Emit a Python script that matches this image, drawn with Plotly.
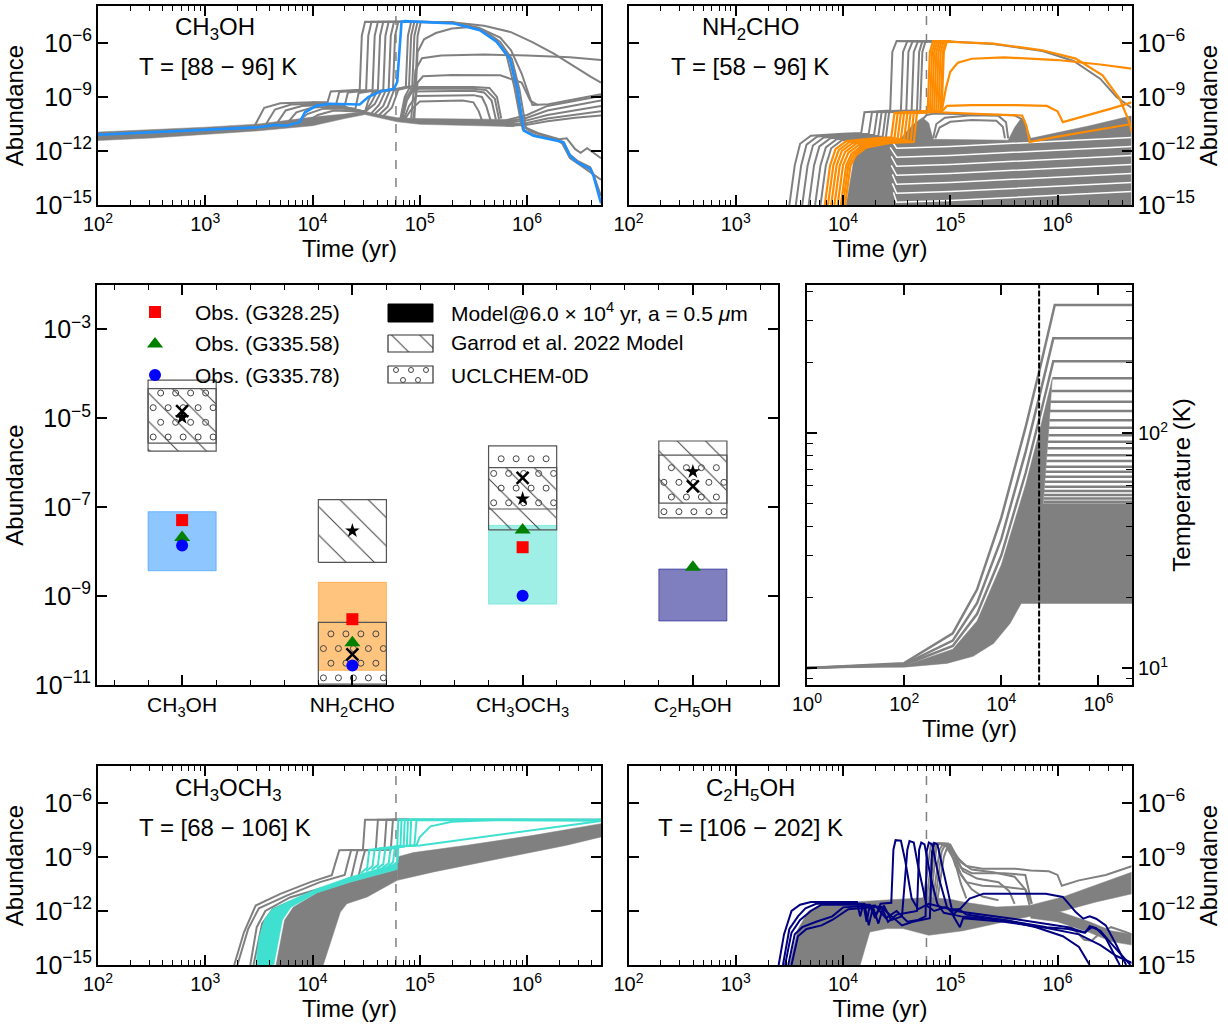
import plotly.graph_objects as go

FIG_W, FIG_H = 1228, 1028
MODEL_TIME = 6.0e4
GRAY = "#808080"
FONT = "Liberation Sans"

# ------------------------------------------------------------------
# Data (log10 time [yr], log10 abundance)
# ------------------------------------------------------------------
# ---- CH3OH ----
CH3OH_BLUE = [(2.0,-11.1),(3.0,-10.82),(3.5,-10.68),(3.65,-10.55),(3.76,-10.6),(3.88,-10.4),(3.93,-9.85),
              (4.04,-9.48),(4.16,-9.38),(4.44,-9.42),(4.52,-9.01),(4.63,-8.7),(4.76,-8.55),(4.79,-8.17),
              (4.83,-4.83),(4.86,-4.79),(5.32,-4.92),(5.56,-5.29),(5.72,-5.94),(5.84,-6.87),(5.91,-8.55),
              (5.97,-10.87),(6.06,-11.15),(6.28,-11.43),(6.34,-11.52),(6.40,-12.26),(6.47,-12.64),
              (6.59,-13.0),(6.62,-13.38),(6.69,-14.9)]
CH3OH_BAND = [(2.0,-10.95),(2.5,-10.82),(3.0,-10.68),(3.5,-10.5),(4.0,-10.12),(4.3,-9.95),(4.49,-9.8),
              (4.6,-9.95),(4.79,-10.15),(5.0,-10.2),(5.5,-10.25),(5.88,-10.25),(5.88,-10.65),(5.5,-10.58),
              (5.0,-10.52),(4.79,-10.38),(4.6,-10.12),(4.49,-9.98),(4.3,-10.2),(4.0,-10.6),(3.5,-10.88),
              (3.0,-11.1),(2.5,-11.28),(2.0,-11.42)]
CH3OH_GRAY = [
    # humps
    [(3.45,-10.72),(3.55,-9.6),(3.7,-9.35),(4.0,-9.3),(4.2,-9.4),(4.49,-9.82)],
    [(3.55,-10.67),(3.65,-9.7),(3.8,-9.42),(4.05,-9.38),(4.25,-9.5),(4.49,-9.82)],
    [(3.65,-10.62),(3.75,-9.75),(3.9,-9.5),(4.1,-9.45),(4.3,-9.6),(4.49,-9.82)],
    [(3.75,-10.55),(3.85,-9.85),(4.0,-9.58),(4.2,-9.55),(4.49,-9.82)],
    [(3.85,-10.45),(3.95,-9.95),(4.1,-9.65),(4.3,-9.65),(4.49,-9.82)],
    [(3.95,-10.35),(4.05,-10.0),(4.2,-9.75),(4.49,-9.82)],
    # ledges and jumps to the plateau
    [(4.0,-9.3),(4.14,-9.3),(4.17,-8.7),(4.44,-8.6),(4.46,-5.6),(4.49,-4.82),(5.3,-4.85)],
    [(4.05,-9.38),(4.22,-9.4),(4.25,-8.72),(4.5,-8.62),(4.52,-5.6),(4.55,-4.82),(5.3,-4.85)],
    [(4.1,-9.45),(4.3,-9.5),(4.33,-8.75),(4.56,-8.62),(4.58,-5.6),(4.61,-4.82),(5.3,-4.85)],
    [(4.2,-9.55),(4.4,-9.65),(4.43,-8.78),(4.61,-8.62),(4.63,-5.6),(4.66,-4.82),(5.3,-4.85)],
    [(4.49,-9.82),(4.52,-9.2),(4.56,-8.75),(4.66,-8.62),(4.68,-5.6),(4.71,-4.82),(5.3,-4.85)],
    [(4.49,-9.82),(4.55,-9.3),(4.6,-8.72),(4.71,-8.6),(4.73,-5.6),(4.76,-4.82),(5.3,-4.85)],
    [(4.49,-9.82),(4.58,-9.4),(4.64,-8.7),(4.75,-8.58),(4.77,-5.6),(4.8,-4.82),(5.3,-4.85)],
    [(4.55,-9.9),(4.62,-9.45),(4.68,-8.68),(4.87,-8.45),(4.89,-5.6),(4.92,-4.82),(5.3,-4.85)],
    [(4.58,-9.95),(4.66,-9.5),(4.72,-8.65),(4.9,-8.42),(4.92,-5.6),(4.95,-4.82),(5.3,-4.85)],
    [(4.62,-10.0),(4.7,-9.55),(4.76,-8.62),(4.93,-8.4),(4.95,-5.6),(4.98,-4.82),(5.3,-4.85)],
    [(4.66,-10.05),(4.74,-9.6),(4.8,-8.6),(4.96,-8.38),(4.98,-5.6),(5.01,-4.82),(5.3,-4.85)],
    # falls after the plateau
    [(5.3,-4.85),(5.56,-5.27),(5.72,-5.92),(5.84,-6.85),(5.9,-8.5),(5.96,-10.8),(6.06,-11.1),(6.28,-11.4),
     (6.34,-11.5),(6.4,-12.2),(6.47,-12.55),(6.59,-12.9),(6.62,-13.3),(6.69,-14.5)],
    [(5.3,-4.85),(5.6,-5.3),(5.75,-5.95),(5.86,-6.9),(5.93,-8.6),(5.99,-10.7),(6.1,-11.0),(6.3,-11.35),
     (6.37,-11.3),(6.45,-11.9),(6.5,-12.1),(6.56,-11.85),(6.62,-12.1),(6.69,-12.4)],
    [(5.3,-4.85),(5.55,-5.2),(5.7,-5.8),(5.81,-6.7),(5.88,-8.4),(5.95,-10.6),(6.05,-10.95),(6.27,-11.35),
     (6.33,-11.6),(6.4,-12.4),(6.5,-12.8),(6.6,-13.2),(6.69,-13.6)],
    [(5.3,-4.85),(5.6,-5.05),(5.85,-5.4),(6.05,-5.95),(6.25,-6.6),(6.45,-7.35),(6.6,-7.9),(6.69,-8.2)],
    [(5.3,-4.85),(5.55,-5.15),(5.75,-5.7),(5.85,-6.4),(5.95,-7.7),(6.05,-9.45),(6.2,-9.4),(6.45,-9.1),(6.69,-8.85)],
    # domes and upper branches after 6e4 yr
    [(4.82,-10.2),(4.86,-9.0),(4.9,-8.55),(5.0,-8.45),(5.5,-8.45),(5.65,-8.5),(5.72,-9.0),(5.76,-10.2)],
    [(4.83,-10.2),(4.87,-9.1),(4.92,-8.62),(5.0,-8.55),(5.5,-8.55),(5.62,-8.62),(5.7,-9.1),(5.74,-10.25)],
    [(4.84,-10.2),(4.88,-9.2),(4.93,-8.7),(5.5,-8.65),(5.6,-8.75),(5.67,-9.2),(5.71,-10.25)],
    [(4.85,-10.25),(4.9,-9.5),(4.97,-8.95),(5.5,-8.9),(5.58,-9.0),(5.62,-9.5),(5.66,-10.3)],
    [(4.86,-10.25),(4.92,-9.7),(5.0,-9.25),(5.4,-9.2),(5.5,-9.3),(5.55,-9.8),(5.58,-10.3)],
    [(4.92,-10.2),(4.96,-7.5),(5.02,-6.85),(5.2,-6.7),(5.6,-6.65),(6.0,-6.7),(6.4,-6.8),(6.69,-6.95)],
    [(4.94,-10.2),(4.98,-8.2),(5.03,-7.85),(5.3,-7.78),(5.75,-7.8),(5.95,-8.2),(6.03,-9.2),(6.1,-9.45)],
    [(4.95,-10.2),(4.98,-6.5),(5.04,-5.8),(5.15,-5.45),(5.3,-5.2),(5.5,-5.1)],
    # late fan
    [(5.8,-10.3),(6.0,-10.0),(6.19,-9.5),(6.45,-9.2),(6.69,-8.95)],
    [(5.8,-10.4),(6.0,-10.15),(6.19,-9.75),(6.45,-9.45),(6.69,-9.2)],
    [(5.8,-10.45),(6.0,-10.3),(6.19,-10.0),(6.45,-9.75),(6.69,-9.5)],
    [(5.8,-10.55),(6.0,-10.45),(6.19,-10.2),(6.45,-10.0),(6.69,-9.8)],
    [(5.8,-10.6),(6.0,-10.55),(6.19,-10.35),(6.45,-10.15),(6.69,-10.03)],
]

# ---- NH2CHO ----
NH2CHO_DENSE = [(4.03,-15),(4.1,-12.5),(4.16,-11.6),(4.24,-11.3),(4.44,-11.22),(4.47,-11.5),(4.52,-11.5),
                (4.58,-11.0),(4.66,-10.5),(4.74,-10.15),(4.8,-10.45),(4.84,-11.35),(5.54,-11.4),(5.6,-10.7),
                (5.66,-10.2),(5.7,-10.4),(5.75,-11.3),(6.0,-11.0),(6.3,-10.6),(6.69,-10.05),(6.69,-15)]
NH2CHO_GAPS = [
    [(4.44,-11.3),(4.5,-11.85),(5.0,-11.75),(5.5,-11.6),(6.0,-11.45),(6.69,-11.25)],
    [(4.44,-11.8),(4.5,-12.35),(5.0,-12.25),(5.5,-12.1),(6.0,-11.95),(6.69,-11.75)],
    [(4.45,-12.3),(4.5,-12.85),(5.0,-12.75),(5.5,-12.6),(6.0,-12.45),(6.69,-12.25)],
    [(4.45,-12.8),(4.5,-13.35),(5.0,-13.25),(5.5,-13.1),(6.0,-12.95),(6.69,-12.75)],
    [(4.46,-13.3),(4.5,-13.85),(5.0,-13.75),(5.5,-13.6),(6.0,-13.45),(6.69,-13.25)],
    [(4.46,-13.8),(4.5,-14.35),(5.0,-14.25),(5.5,-14.1),(6.0,-13.95),(6.69,-13.75)],
    [(4.47,-14.3),(4.5,-14.85),(5.0,-14.75),(5.5,-14.6),(6.0,-14.45),(6.69,-14.25)],
]
NH2CHO_GRAY = [
    [(3.50,-15),(3.55,-12.8),(3.6,-11.6),(3.7,-11.15),(4.0,-11.05),(4.17,-11.0),(4.2,-9.85),(4.44,-9.75),(4.46,-6.5),(4.5,-5.9),(5.0,-5.92)],
    [(3.56,-15),(3.61,-12.8),(3.66,-11.65),(3.76,-11.2),(4.05,-11.1),(4.24,-11.05),(4.27,-9.85),(4.54,-9.75),(4.56,-6.5),(4.6,-5.9),(5.0,-5.92)],
    [(3.62,-15),(3.67,-12.8),(3.72,-11.7),(3.82,-11.25),(4.1,-11.15),(4.29,-11.1),(4.32,-9.85),(4.59,-9.75),(4.61,-6.5),(4.65,-5.9),(5.0,-5.92)],
    [(3.68,-15),(3.73,-12.8),(3.78,-11.75),(3.88,-11.3),(4.15,-11.2),(4.33,-11.15),(4.36,-9.85),(4.64,-9.75),(4.66,-6.5),(4.7,-5.9),(5.0,-5.92)],
    [(3.74,-15),(3.79,-12.8),(3.84,-11.8),(3.94,-11.35),(4.2,-11.25),(4.37,-11.2),(4.4,-9.85),(4.69,-9.75),(4.71,-6.5),(4.74,-5.9),(5.0,-5.92)],
    [(3.79,-15),(3.84,-12.8),(3.89,-11.85),(3.99,-11.4),(4.22,-11.3),(4.4,-11.25),(4.43,-9.85),(4.72,-9.75),(4.74,-6.5),(4.77,-5.9),(5.0,-5.92)],
    [(5.0,-5.92),(5.4,-6.06),(5.86,-6.45),(6.15,-7.0),(6.4,-8.0),(6.55,-9.0),(6.69,-9.6)],
    [(4.84,-11.3),(4.87,-10.5),(4.95,-10.15),(5.2,-10.02),(5.45,-10.05),(5.52,-10.4),(5.54,-11.3)],
    [(4.86,-11.3),(4.9,-10.7),(5.0,-10.38),(5.2,-10.28),(5.43,-10.32),(5.49,-10.65),(5.51,-11.3)],
    [(4.7,-10.5),(4.78,-10.0),(4.85,-9.92),(5.6,-10.02),(5.69,-10.3),(5.73,-11.25)],
]
NH2CHO_ORANGE = [
    [(3.83,-15),(3.88,-12.8),(3.93,-11.9),(4.03,-11.45),(4.3,-11.3),(4.45,-11.25),(4.48,-9.9),(4.79,-9.78),(4.81,-6.5),(4.84,-5.9),(5.0,-5.9)],
    [(3.86,-15),(3.91,-12.8),(3.96,-11.95),(4.06,-11.5),(4.32,-11.33),(4.48,-11.28),(4.51,-9.9),(4.81,-9.78),(4.83,-6.5),(4.86,-5.9),(5.0,-5.9)],
    [(3.89,-15),(3.94,-12.8),(3.99,-12.0),(4.09,-11.55),(4.34,-11.36),(4.51,-11.3),(4.54,-9.9),(4.83,-9.78),(4.85,-6.5),(4.88,-5.9),(5.0,-5.9)],
    [(3.92,-15),(3.97,-12.8),(4.02,-12.05),(4.12,-11.6),(4.36,-11.4),(4.54,-11.33),(4.57,-9.9),(4.85,-9.78),(4.87,-6.5),(4.9,-5.9),(5.0,-5.9)],
    [(3.95,-15),(4.0,-12.8),(4.05,-12.1),(4.15,-11.65),(4.38,-11.43),(4.57,-11.36),(4.6,-9.9),(4.87,-9.78),(4.89,-6.5),(4.92,-5.9),(5.0,-5.9)],
    [(3.98,-15),(4.03,-12.8),(4.08,-12.15),(4.18,-11.7),(4.4,-11.46),(4.6,-11.4),(4.63,-9.9),(4.89,-9.78),(4.91,-6.5),(4.94,-5.9),(5.0,-5.9)],
    [(4.0,-15),(4.05,-12.8),(4.1,-12.2),(4.2,-11.75),(4.42,-11.5),(4.63,-11.45),(4.66,-9.9),(4.91,-9.78),(4.93,-6.5),(4.96,-5.9),(5.0,-5.9)],
    [(4.02,-15),(4.07,-12.8),(4.12,-12.25),(4.22,-11.8),(4.44,-11.55),(4.66,-11.5),(4.69,-9.9),(4.92,-9.8),(4.94,-6.5),(4.97,-5.9),(5.0,-5.9)],
    [(4.84,-5.9),(5.4,-6.04),(5.86,-6.41),(6.17,-6.87),(6.42,-7.8),(6.58,-9.1),(6.67,-10.4),(6.69,-10.96)],
    [(4.92,-9.8),(4.96,-8.5),(5.0,-7.6),(5.07,-7.1),(5.2,-6.88),(5.5,-6.8),(6.0,-6.95),(6.4,-7.2),(6.69,-7.43)],
    [(4.93,-9.75),(4.97,-9.5),(5.2,-9.45),(5.6,-9.45),(5.9,-9.5),(6.0,-9.8),(6.05,-10.4),(6.3,-10.0),(6.5,-9.65),(6.69,-9.3)],
    [(4.8,-9.8),(4.9,-9.85),(5.3,-9.95),(5.67,-10.03),(5.71,-10.6),(5.74,-11.5),(6.0,-11.2),(6.4,-10.8),(6.69,-10.5)],
]

# ---- CH3OCH3 ----
CH3OCH3_DENSE = [(3.66,-15),(3.7,-13.8),(3.74,-12.5),(3.82,-11.8),(4.04,-11.0),(4.35,-10.4),(4.6,-10.0),
                 (4.79,-9.7),(4.79,-10.3),(4.51,-11.22),(4.32,-11.6),(4.26,-12.06),(4.1,-15)]
CH3OCH3_FAN = [(4.79,-9.0),(4.94,-8.76),(5.44,-8.35),(6.06,-7.8),(6.69,-7.15),(6.69,-7.89),(6.37,-8.35),
               (5.75,-9.09),(5.13,-9.83),(4.79,-10.3)]
CH3OCH3_TURQ_BAND = [(3.47,-15),(3.5,-13.5),(3.55,-12.5),(3.62,-11.9),(3.76,-11.5),(4.04,-10.76),(4.35,-10.11),
                     (4.6,-9.7),(4.79,-9.35),(4.79,-9.7),(4.6,-10.0),(4.35,-10.4),(4.04,-11.0),(3.8,-11.8),
                     (3.72,-12.5),(3.68,-13.8),(3.64,-15)]
CH3OCH3_GRAY = [
    [(3.27,-15),(3.36,-13.2),(3.47,-11.7),(3.7,-11.05),(3.98,-10.4),(4.18,-10.02),(4.21,-9.4),(4.25,-8.63),(4.47,-8.6),(4.49,-6.93),(6.69,-6.93)],
    [(3.3,-15),(3.4,-13.0),(3.5,-11.85),(3.76,-11.15),(4.07,-10.4),(4.3,-10.0),(4.33,-9.3),(4.36,-8.63),(4.59,-8.6),(4.61,-6.93),(4.9,-6.93)],
    [(3.42,-15),(3.48,-12.9),(3.56,-12.0),(3.79,-11.25),(4.16,-10.6),(4.36,-10.15),(4.39,-9.4),(4.42,-8.63),(4.67,-8.6),(4.69,-6.93),(4.9,-6.93)],
    [(3.45,-15),(3.53,-12.7),(3.63,-11.9),(3.89,-11.25),(4.26,-10.5),(4.43,-10.05),(4.46,-9.3),(4.49,-8.63),(4.73,-8.6),(4.75,-6.93),(4.9,-6.93)],
]
CH3OCH3_TURQ = [
    [(4.45,-9.9),(4.51,-9.6),(4.53,-8.6),(4.79,-8.5),(4.8,-6.93),(6.69,-6.93)],
    [(4.5,-9.8),(4.56,-9.5),(4.58,-8.55),(4.82,-8.45),(4.83,-6.93),(6.69,-6.93)],
    [(4.55,-9.72),(4.61,-9.45),(4.63,-8.52),(4.85,-8.42),(4.86,-6.93),(6.69,-6.95)],
    [(4.6,-9.65),(4.66,-9.4),(4.68,-8.5),(4.88,-8.4),(4.89,-6.93),(6.69,-6.95)],
    [(4.65,-9.6),(4.71,-9.35),(4.73,-8.45),(4.91,-8.38),(4.92,-6.93),(6.69,-6.97)],
    [(4.7,-9.55),(4.75,-9.3),(4.77,-8.42),(4.95,-8.37),(4.97,-6.95),(6.69,-6.97)],
    [(4.75,-9.45),(4.79,-9.3),(4.8,-8.4),(4.97,-8.35),(5.0,-7.9),(5.1,-7.3),(5.3,-7.05),(5.7,-6.95),(6.69,-6.95)],
    [(4.79,-9.35),(4.8,-8.4),(5.0,-8.36),(5.5,-7.95),(6.0,-7.55),(6.4,-7.25),(6.69,-7.0)],
]

# ---- C2H5OH ----
C2H5OH_DENSE = [(3.5,-15),(3.58,-13.0),(3.68,-12.0),(3.8,-11.6),(4.1,-11.5),(4.4,-11.4),(4.6,-11.35),(4.8,-11.25),
                (5.0,-11.35),(5.12,-11.5),(5.43,-11.78),(5.74,-11.69),(6.05,-11.22),(6.36,-10.57),(6.7,-9.83),
                (6.7,-11.04),(6.36,-11.5),(6.05,-12.0),(5.74,-12.3),(5.43,-12.7),(5.12,-13.1),(4.8,-13.35),
                (4.56,-12.98),(4.41,-12.98),(4.25,-13.17),(4.16,-15)]
C2H5OH_LOWBAND = [(5.75,-11.9),(6.0,-12.0),(6.3,-12.6),(6.5,-13.1),(6.7,-13.3),(6.7,-13.9),(6.5,-13.7),
                  (6.3,-13.2),(6.0,-12.6),(5.75,-12.4)]
C2H5OH_GRAY = [
    [(4.75,-11.4),(4.8,-9.0),(4.82,-8.25),(4.95,-8.25),(5.0,-8.6),(5.05,-9.5),(5.15,-10.4),(5.3,-10.6),(5.5,-10.65),(5.7,-10.8),(5.76,-11.6)],
    [(4.78,-11.4),(4.83,-8.8),(4.86,-8.25),(4.98,-8.25),(5.03,-8.8),(5.1,-9.6),(5.2,-9.9),(5.5,-9.9),(5.7,-10.0),(5.74,-11.0),(5.76,-11.6)],
    [(4.8,-11.4),(4.85,-8.6),(4.88,-8.25),(5.0,-8.3),(5.06,-9.0),(5.15,-9.5),(5.3,-9.65),(5.6,-9.65),(5.75,-9.75),
     (5.92,-9.8),(6.0,-10.0),(6.04,-10.6),(6.2,-10.3),(6.45,-10.0),(6.7,-9.5)],
    [(4.82,-11.4),(4.87,-8.5),(4.9,-8.25),(5.0,-8.4),(5.1,-9.3),(5.2,-9.7),(5.4,-9.85),(5.6,-10.1),(5.7,-10.8),(5.74,-11.7)],
    [(4.84,-11.4),(4.9,-8.6),(4.93,-8.3),(5.02,-8.6),(5.12,-9.8),(5.25,-10.2),(5.45,-10.4),(5.55,-10.9),(5.6,-11.6)],
    [(4.86,-11.4),(4.92,-8.7),(4.95,-8.35),(5.03,-8.8),(5.1,-10.0),(5.2,-10.8),(5.3,-11.2),(5.45,-11.4)],
    [(4.88,-11.4),(4.94,-9.0),(4.97,-8.5),(5.04,-9.2),(5.1,-10.5),(5.15,-11.3)],
    [(5.9,-12.4),(6.1,-12.7),(6.25,-13.6),(6.32,-13.65),(6.4,-13.2),(6.5,-12.9),(6.6,-13.1),(6.7,-13.3)],
]
C2H5OH_NAVY = [
    [(3.40,-15),(3.45,-13.3),(3.52,-12.0),(3.6,-11.65),(3.7,-11.5),(4.13,-11.5),(4.16,-12.3),(4.19,-11.6),(4.22,-12.6),
     (4.25,-11.7),(4.3,-12.4),(4.35,-11.6),(4.45,-11.55),(4.47,-8.6),(4.49,-8.07),(4.54,-8.1),(4.58,-9.2),(4.64,-11.3),
     (4.7,-11.9),(4.8,-11.6),(5.0,-11.9),(5.09,-11.9),(5.18,-11.31),(5.31,-11.04),(5.89,-11.04),(6.05,-11.22),
     (6.17,-12.06),(6.24,-12.43),(6.3,-12.3),(6.36,-12.43),(6.45,-12.8),(6.55,-13.9),(6.64,-15)],
    [(3.44,-15),(3.5,-13.0),(3.58,-12.3),(3.65,-11.85),(3.75,-11.6),(4.2,-11.6),(4.24,-12.8),(4.28,-11.8),(4.33,-12.7),
     (4.38,-11.7),(4.45,-12.5),(4.55,-12.3),(4.6,-8.6),(4.62,-8.12),(4.66,-8.2),(4.7,-9.5),(4.78,-11.7),(4.85,-12.0),
     (4.95,-11.8),(5.05,-12.0),(5.6,-12.45),(5.9,-12.7),(6.1,-12.9),(6.26,-13.2),(6.3,-12.85),(6.36,-12.95),
     (6.45,-13.5),(6.58,-15)],
    [(3.46,-15),(3.52,-13.2),(3.6,-12.5),(3.7,-12.0),(3.8,-11.65),(4.25,-11.65),(4.3,-12.2),(4.36,-11.8),(4.42,-12.6),
     (4.5,-12.2),(4.6,-12.1),(4.69,-12.0),(4.71,-8.6),(4.73,-8.2),(4.76,-8.3),(4.82,-10.2),(4.88,-11.6),(4.94,-12.1),
     (5.1,-12.3),(5.5,-12.5),(5.8,-12.9),(6.05,-13.4),(6.2,-14.0),(6.3,-15)],
    [(3.49,-15),(3.55,-13.3),(3.62,-12.9),(3.75,-12.6),(3.9,-12.3),(4.0,-11.8),(4.3,-11.7),(4.4,-12.4),(4.5,-12.0),
     (4.6,-12.6),(4.7,-12.5),(4.77,-12.3),(4.78,-8.7),(4.8,-8.2),(4.83,-8.3),(4.9,-10.3),(4.97,-11.8),(5.03,-12.2),
     (5.08,-11.9),(5.15,-12.2),(5.6,-12.6),(5.9,-12.9),(6.1,-13.0),(6.25,-13.2),(6.32,-12.9),(6.4,-13.1),
     (6.5,-13.8),(6.68,-15)],
    [(3.52,-15),(3.58,-13.4),(3.66,-13.0),(3.8,-12.8),(3.9,-12.5),(4.05,-11.9),(4.35,-11.75),(4.45,-12.3),(4.55,-12.8),
     (4.65,-12.6),(4.81,-12.4),(4.83,-8.7),(4.85,-8.22),(4.88,-8.3),(4.95,-10.2),(5.03,-12.3),(5.09,-12.9),
     (5.12,-12.4),(5.5,-12.6),(5.9,-12.95),(6.2,-13.3),(6.4,-13.9),(6.55,-14.5),(6.7,-14.9)],
]

# ---- Temperature profiles (log10 t, log10 T) ----
TEMP_TOP = [
    [(0,1.0),(2,1.021),(3,1.148),(3.5,1.334),(4,1.64),(4.5,2.025),(4.8,2.28),(5.10,2.545),(6.69,2.545)],
    [(0,1.0),(2,1.016),(3,1.117),(3.5,1.276),(4,1.55),(4.5,1.92),(4.8,2.17),(5.07,2.403),(6.69,2.403)],
    [(0,1.0),(2,1.013),(3,1.094),(3.5,1.23),(4,1.48),(4.5,1.83),(4.8,2.076),(5.07,2.306),(6.69,2.306)],
]
TEMP_FLAT = [(5.05,2.233),(5.03,2.179),(5.01,2.133),(5.0,2.094),(4.99,2.055),(4.98,2.023),(4.97,1.991),
             (4.96,1.963),(4.95,1.935),(4.94,1.906),(4.93,1.881),(4.92,1.857),(4.91,1.835),(4.90,1.814),
             (4.90,1.793),(4.89,1.772),(4.88,1.753),(4.88,1.736),(4.87,1.722),(4.87,1.708)]
TEMP_MASS = [(0,1.0),(2,1.01),(3,1.08),(3.5,1.2),(4,1.44),(4.5,1.78),(4.8,2.02),(5.05,2.233),
             (5.03,2.179),(5.01,2.133),(5.0,2.094),(4.99,2.055),(4.98,2.023),(4.97,1.991),(4.96,1.963),
             (4.95,1.935),(4.94,1.906),(4.93,1.881),(4.92,1.857),(4.91,1.835),(4.90,1.814),(4.90,1.793),
             (4.89,1.772),(4.88,1.753),(4.88,1.736),(4.87,1.722),(4.86,1.70),(6.69,1.70),(6.69,1.275),
             (4.41,1.275),(4.18,1.19),(3.84,1.105),(3.42,1.05),(2.88,1.02),(2.0,1.004),(0,1.0)]
T_END = 6.69

# ---- Middle panel: abundance ranges (log10) ----
SPECIES = ["CH<sub>3</sub>OH", "NH<sub>2</sub>CHO", "CH<sub>3</sub>OCH<sub>3</sub>", "C<sub>2</sub>H<sub>5</sub>OH"]
MODEL_COLORS = ["rgba(30,144,255,0.5)", "rgba(255,140,0,0.5)", "rgba(64,224,208,0.5)", "rgba(0,0,128,0.5)"]
MODEL_LO = [-8.43, -10.67, -9.18, -9.56]
MODEL_HI = [-7.10, -8.69, -7.41, -8.39]
GARROD_LO = [-5.74, -8.24, -7.51, -6.91]
GARROD_HI = [-4.33, -6.83, -6.11, -5.51]
GARROD_MED = [-4.98, -7.53, -6.81, -6.20]
UCL_LO = [-5.56, -10.98, -7.04, -7.24]
UCL_HI = [-4.14, -9.59, -5.62, -5.83]
UCL_MED = [-4.84, -10.31, -6.34, -6.53]
OBS_G328 = [-7.29, -9.52, -7.90, None]
OBS_G335_58 = [-7.68, -10.05, -7.51, -8.35]
OBS_G335_78 = [-7.86, -10.56, -8.99, None]
BOX_W = 0.4

# ------------------------------------------------------------------
fig = go.Figure()


def axn(n):
    return ("x" if n == 1 else f"x{n}"), ("y" if n == 1 else f"y{n}")


def xy(pts):
    return [10 ** p[0] for p in pts], [10 ** p[1] for p in pts]


def add_line(pts, color, width, n, dash=None):
    x, y = xy(pts)
    xa, ya = axn(n)
    fig.add_trace(go.Scatter(x=x, y=y, mode="lines", line=dict(color=color, width=width, dash=dash),
                             xaxis=xa, yaxis=ya, showlegend=False, hoverinfo="skip"))


def add_poly(pts, color, n):
    x, y = xy(pts)
    xa, ya = axn(n)
    fig.add_trace(go.Scatter(x=x + [x[0]], y=y + [y[0]], mode="lines", fill="toself", fillcolor=color,
                             line=dict(color=color, width=0.5), xaxis=xa, yaxis=ya,
                             showlegend=False, hoverinfo="skip"))


def vline(n, ylo, yhi, color, width, dash):
    xa, ya = axn(n)
    fig.add_trace(go.Scatter(x=[MODEL_TIME, MODEL_TIME], y=[ylo, yhi], mode="lines",
                             line=dict(color=color, width=width, dash=dash), xaxis=xa, yaxis=ya,
                             showlegend=False, hoverinfo="skip"))


# Panel 1: CH3OH
vline(1, 1e-15, 10 ** -3.95, GRAY, 1.5, "dash")
add_poly(CH3OH_BAND, GRAY, 1)
for c in CH3OH_GRAY:
    add_line(c, GRAY, 2, 1)
add_line(CH3OH_BLUE, "#1E90FF", 2.6, 1)

# Panel 2: NH2CHO
vline(2, 1e-15, 10 ** -3.95, GRAY, 1.5, "dash")
add_poly(NH2CHO_DENSE, GRAY, 2)
for c in NH2CHO_GAPS:
    add_line(c, "white", 1.5, 2)
for c in NH2CHO_GRAY:
    add_line(c, GRAY, 2, 2)
for c in NH2CHO_ORANGE:
    add_line(c, "#FF8C00", 2.2, 2)

# Panel 5: CH3OCH3
vline(5, 1e-15, 10 ** -3.95, GRAY, 1.5, "dash")
add_poly(CH3OCH3_DENSE, GRAY, 5)
add_poly(CH3OCH3_FAN, GRAY, 5)
for c in CH3OCH3_GRAY:
    add_line(c, GRAY, 2, 5)
add_poly(CH3OCH3_TURQ_BAND, "#40E0D0", 5)
for c in CH3OCH3_TURQ:
    add_line(c, "#40E0D0", 2, 5)

# Panel 6: C2H5OH
vline(6, 1e-15, 10 ** -3.95, GRAY, 1.5, "dash")
add_poly(C2H5OH_DENSE, GRAY, 6)
add_poly(C2H5OH_LOWBAND, GRAY, 6)
for c in C2H5OH_GRAY:
    add_line(c, GRAY, 2, 6)
for c in C2H5OH_NAVY:
    add_line(c, "#000080", 2, 6)

# Panel 4: temperature
add_poly(TEMP_MASS, GRAY, 4)
for c in TEMP_TOP:
    add_line(c, GRAY, 2.5, 4)
for t0, lt in TEMP_FLAT:
    add_line([(t0, lt), (T_END, lt)], GRAY, 2.5, 4)
fig.add_trace(go.Scatter(x=[MODEL_TIME, MODEL_TIME], y=[7, 500], mode="lines",
                         line=dict(color="black", width=2, dash="6px,2px"), xaxis="x4", yaxis="y4",
                         showlegend=False, hoverinfo="skip"))

# Panel 3: comparison boxes
HATCH = dict(shape="\\", fgcolor="#2a2a2a", fgopacity=0.9, bgcolor="rgba(0,0,0,0)", size=20, solidity=0.05)


def rect_xy(i, lo, hi):
    x0, x1 = i - BOX_W / 2, i + BOX_W / 2
    return [x0, x1, x1, x0, x0], [10 ** lo, 10 ** lo, 10 ** hi, 10 ** hi, 10 ** lo]


for i in range(4):
    x, y = rect_xy(i, MODEL_LO[i], MODEL_HI[i])
    fig.add_trace(go.Scatter(x=x, y=y, mode="lines", fill="toself", fillcolor=MODEL_COLORS[i],
                             line=dict(color=MODEL_COLORS[i], width=1), xaxis="x3", yaxis="y3",
                             showlegend=False, hoverinfo="skip"))

for i in range(4):
    x, y = rect_xy(i, GARROD_LO[i], GARROD_HI[i])
    fig.add_trace(go.Scatter(x=x, y=y, mode="lines", fill="toself", fillcolor="rgba(0,0,0,0)",
                             fillpattern=HATCH, line=dict(color="#555555", width=1.2),
                             xaxis="x3", yaxis="y3", showlegend=False, hoverinfo="skip"))


def circle_grid(i, lo, hi):
    xs, ys = [], []
    row = 0
    yv = lo + 0.14
    while yv < hi - 0.06:
        xv = i - BOX_W / 2 + 0.03 + (0.044 if row % 2 else 0.0)
        while xv < i + BOX_W / 2 - 0.015:
            xs.append(xv)
            ys.append(10 ** yv)
            xv += 0.088
        yv += 0.33
        row += 1
    return xs, ys


for i in range(4):
    x, y = rect_xy(i, UCL_LO[i], UCL_HI[i])
    fig.add_trace(go.Scatter(x=x, y=y, mode="lines", line=dict(color="#555555", width=1.2),
                             xaxis="x3", yaxis="y3", showlegend=False, hoverinfo="skip"))
    cx, cy = circle_grid(i, UCL_LO[i], UCL_HI[i])
    fig.add_trace(go.Scatter(x=cx, y=cy, mode="markers",
                             marker=dict(symbol="circle-open", size=6, color="#444444", line=dict(width=1)),
                             xaxis="x3", yaxis="y3", showlegend=False, hoverinfo="skip"))

cats = list(range(4))
fig.add_trace(go.Scatter(x=cats, y=[10 ** v for v in GARROD_MED], mode="markers",
                         marker=dict(symbol="star", size=11, color="black"),
                         xaxis="x3", yaxis="y3", showlegend=False, hoverinfo="skip"))
fig.add_trace(go.Scatter(x=cats, y=[10 ** v for v in UCL_MED], mode="markers",
                         marker=dict(symbol="x-thin-open", size=12, color="black", line=dict(width=2.5, color="black")),
                         xaxis="x3", yaxis="y3", showlegend=False, hoverinfo="skip"))


def obs(vals, symbol, color, size):
    xs = [i for i, v in enumerate(vals) if v is not None]
    ys = [10 ** v for v in vals if v is not None]
    fig.add_trace(go.Scatter(x=xs, y=ys, mode="markers", marker=dict(symbol=symbol, size=size, color=color),
                             xaxis="x3", yaxis="y3", showlegend=False, hoverinfo="skip"))


obs(OBS_G328, "square", "red", 12)
obs(OBS_G335_58, "triangle-up", "green", 14)
obs(OBS_G335_78, "circle", "blue", 12)

# Legend glyphs (pixel coordinates on a full-figure overlay axis)
fig.add_trace(go.Scatter(x=[155], y=[312], mode="markers", marker=dict(symbol="square", size=12, color="red"),
                         xaxis="x7", yaxis="y7", showlegend=False, hoverinfo="skip"))
fig.add_trace(go.Scatter(x=[155], y=[344], mode="markers", marker=dict(symbol="triangle-up", size=14, color="green"),
                         xaxis="x7", yaxis="y7", showlegend=False, hoverinfo="skip"))
fig.add_trace(go.Scatter(x=[155], y=[375], mode="markers", marker=dict(symbol="circle", size=12, color="blue"),
                         xaxis="x7", yaxis="y7", showlegend=False, hoverinfo="skip"))
fig.add_trace(go.Scatter(x=[388, 433, 433, 388, 388], y=[304, 304, 322, 322, 304], mode="lines", fill="toself",
                         fillcolor="black", line=dict(color="black", width=1),
                         xaxis="x7", yaxis="y7", showlegend=False, hoverinfo="skip"))
fig.add_trace(go.Scatter(x=[388, 433, 433, 388, 388], y=[335, 335, 352, 352, 335], mode="lines", fill="toself",
                         fillcolor="rgba(0,0,0,0)", fillpattern=HATCH, line=dict(color="#333333", width=1.2),
                         xaxis="x7", yaxis="y7", showlegend=False, hoverinfo="skip"))
fig.add_trace(go.Scatter(x=[388, 433, 433, 388, 388], y=[366, 366, 383, 383, 366], mode="lines",
                         line=dict(color="#333333", width=1.2),
                         xaxis="x7", yaxis="y7", showlegend=False, hoverinfo="skip"))
fig.add_trace(go.Scatter(x=[396, 411, 426, 403, 418], y=[370, 370, 370, 380, 380], mode="markers",
                         marker=dict(symbol="circle-open", size=5, color="#444444", line=dict(width=1)),
                         xaxis="x7", yaxis="y7", showlegend=False, hoverinfo="skip"))

# ------------------------------------------------------------------
TICKFONT = dict(family=FONT, size=20, color="black")
TITLEFONT = dict(family=FONT, size=24, color="black")
MINOR_T = [k * 10 ** e for e in range(2, 7) for k in range(2, 10) if k * 10 ** e <= 10 ** 6.69]
MAJOR_T = [1e2, 1e3, 1e4, 1e5, 1e6]
MAJOR_TXT = ["10<sup>2</sup>", "10<sup>3</sup>", "10<sup>4</sup>", "10<sup>5</sup>", "10<sup>6</sup>"]


def P(px):
    return px / FIG_W


def Q(py):
    return 1 - py / FIG_H


def base_axis(**kw):
    d = dict(showline=True, linecolor="black", linewidth=2, mirror="allticks", ticks="inside",
             ticklen=10, tickwidth=1.5, tickcolor="black", showgrid=False, zeroline=False,
             tickfont=TICKFONT, automargin=False)
    d.update(kw)
    return d


def time_axis(domain, anchor):
    return base_axis(domain=domain, anchor=anchor, type="log", range=[2, 6.69], tickmode="array",
                     tickvals=MAJOR_T, ticktext=MAJOR_TXT,
                     minor=dict(ticks="inside", ticklen=5, tickwidth=1.2, tickcolor="black",
                                tickmode="array", tickvals=MINOR_T, showgrid=False),
                     title=dict(text="Time (yr)", font=TITLEFONT, standoff=2))


def abund_axis(domain, anchor, side):
    return base_axis(domain=domain, anchor=anchor, type="log", range=[-15, -3.95], dtick=3, tick0=0,
                     exponentformat="power", side=side,
                     title=dict(text="Abundance", font=TITLEFONT, standoff=4))


TOP_Y = [Q(205), Q(6)]
BOT_Y = [Q(965), Q(766)]
LEFT_X = [P(98), P(601)]
RIGHT_X = [P(628.5), P(1131.5)]
MID_Y = [Q(685), Q(285)]

layout = dict(
    xaxis=time_axis(LEFT_X, "y"), yaxis=abund_axis(TOP_Y, "x", "left"),
    xaxis2=time_axis(RIGHT_X, "y2"), yaxis2=abund_axis(TOP_Y, "x2", "right"),
    xaxis5=time_axis(LEFT_X, "y5"), yaxis5=abund_axis(BOT_Y, "x5", "left"),
    xaxis6=time_axis(RIGHT_X, "y6"), yaxis6=abund_axis(BOT_Y, "x6", "right"),
    xaxis3=base_axis(domain=[P(97), P(778)], anchor="y3", range=[-0.5, 3.5], tickmode="array",
                     tickvals=[0, 1, 2, 3], ticktext=SPECIES, tickfont=dict(family=FONT, size=21, color="black"),
                     minor=dict(ticks="inside", ticklen=5, tickwidth=1.2, tickcolor="black",
                                tickmode="linear", tick0=0, dtick=0.2)),
    yaxis3=base_axis(domain=MID_Y, anchor="x3", type="log", range=[-11, -2], dtick=2, tick0=1,
                     exponentformat="power", title=dict(text="Abundance", font=TITLEFONT, standoff=4)),
    xaxis4=base_axis(domain=[P(807), P(1132)], anchor="y4", type="log", range=[0, 6.69], tickmode="array",
                     tickvals=[1, 1e2, 1e4, 1e6],
                     ticktext=["10<sup>0</sup>", "10<sup>2</sup>", "10<sup>4</sup>", "10<sup>6</sup>"],
                     title=dict(text="Time (yr)", font=TITLEFONT, standoff=2)),
    yaxis4=base_axis(domain=MID_Y, anchor="x4", type="log", range=[0.928, 2.63], side="right",
                     tickmode="array", tickvals=[10, 100], ticktext=["10<sup>1</sup>", "10<sup>2</sup>"],
                     minor=dict(ticks="inside", ticklen=6, tickwidth=1.2, tickcolor="black", tickmode="array",
                                tickvals=[9, 20, 30, 40, 50, 60, 70, 80, 90, 200, 300, 400]),
                     title=dict(text="Temperature (K)", font=TITLEFONT, standoff=4)),
    xaxis7=dict(domain=[0, 1], anchor="y7", range=[0, FIG_W], visible=False, showgrid=False, zeroline=False,
                automargin=False),
    yaxis7=dict(domain=[0, 1], anchor="x7", range=[FIG_H, 0], visible=False, showgrid=False, zeroline=False,
                automargin=False),
)

ann = []


def text(px, py, s, size=24, anchor="center"):
    ann.append(dict(x=P(px), y=Q(py), xref="paper", yref="paper", text=s, showarrow=False,
                    xanchor=anchor, yanchor="middle", font=dict(family=FONT, size=size, color="black")))


text(215, 28, "CH<sub>3</sub>OH")
text(218, 66, "T = [88 − 96] K")
text(750, 28, "NH<sub>2</sub>CHO")
text(750, 66, "T = [58 − 96] K")
text(228, 789, "CH<sub>3</sub>OCH<sub>3</sub>")
text(225, 827, "T = [68 − 106] K")
text(750, 789, "C<sub>2</sub>H<sub>5</sub>OH")
text(750, 827, "T = [106 − 202] K")
text(193, 312, "Obs. (G328.25)", 21, "left")
text(193, 344, "Obs. (G335.58)", 21, "left")
text(193, 375, "Obs. (G335.78)", 21, "left")
text(449, 312, "Model@6.0 × 10<sup>4</sup> yr, a = 0.5 <i>μ</i>m", 21, "left")
text(449, 343, "Garrod et al. 2022 Model", 21, "left")
text(449, 375, "UCLCHEM-0D", 21, "left")

fig.update_layout(**layout)
fig.update_layout(width=FIG_W, height=FIG_H, margin=dict(l=0, r=0, t=0, b=0, autoexpand=False),
                  paper_bgcolor="white", plot_bgcolor="rgba(0,0,0,0)", showlegend=False, annotations=ann,
                  font=dict(family=FONT, color="black"))

fig.write_html("out.html")
